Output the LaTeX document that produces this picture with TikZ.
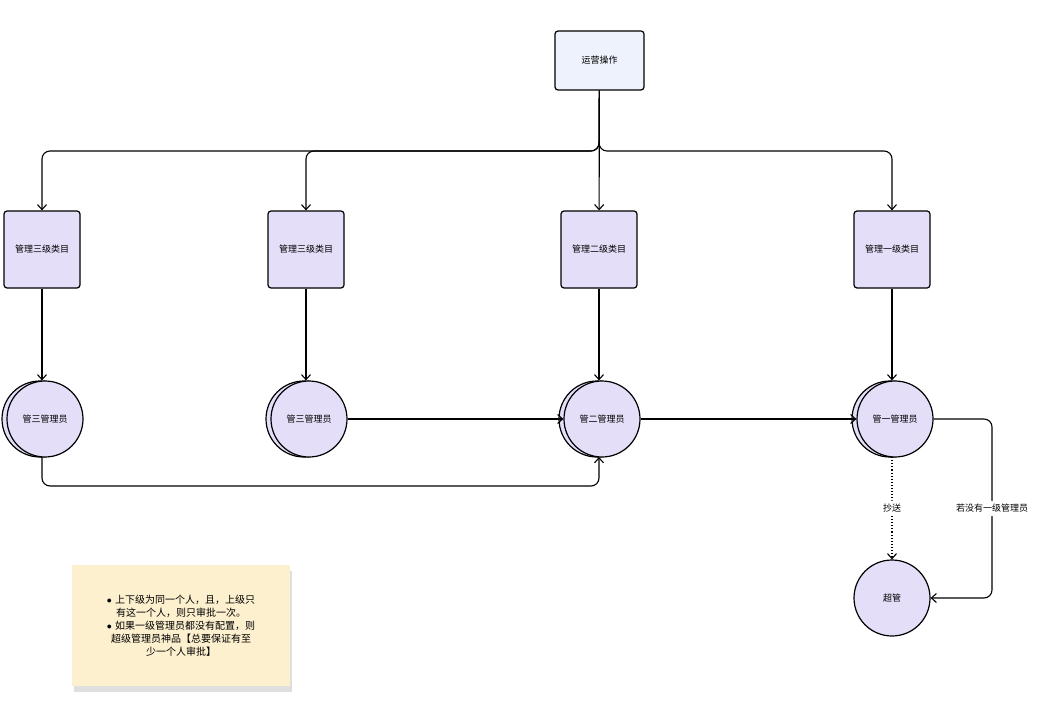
\documentclass[tikz,border=0pt]{standalone}
\usepackage{fontspec}
\setmainfont{Noto Sans CJK SC}
\usetikzlibrary{shapes, arrows.meta, positioning, shadows}
\definecolor{boxblue}{HTML}{EDF2FC}
\definecolor{boxpurple}{HTML}{E5DEF8}
\definecolor{notefill}{HTML}{FDF0CF}
\tikzstyle{block} = [draw, line width=1.2pt, fill=boxpurple, rectangle, rounded corners=3pt, minimum width=76pt, minimum height=77pt, font=\fontsize{9pt}{11pt}\selectfont]
\tikzstyle{role} = [draw, line width=1.2pt, fill=boxpurple, circle, minimum size=76pt, font=\fontsize{9pt}{11pt}\selectfont]
\tikzstyle{link} = [-{Straight Barb[length=5pt,width=9pt]}, line width=1.1pt, rounded corners=8pt]
\begin{document}
\begin{tikzpicture}[x=1pt,y=-1pt]
    \useasboundingbox (0,0) rectangle (1046,703);
    \node[block, fill=boxblue, minimum width=89pt, minimum height=59pt] (op) at (599.5,60.5) {运营操作};
    \node[block] (c3a) at (42,249.5) {管理三级类目};
    \node[block] (c3b) at (306,249.5) {管理三级类目};
    \node[block] (c2) at (599,249.5) {管理二级类目};
    \node[block] (c1) at (892,249.5) {管理一级类目};
    % stacked circles for the admins
    \foreach \n/\x/\t in {m3a/42/管三管理员, m3b/306/管三管理员, m2/599/管二管理员, m1/892/管一管理员} {
        \node[role] at (\x-2,419) {};
        \node[role] (\n) at (\x+3,419) {\t};
    }
    \node[role] (sup) at (892,598) {超管};
    \coordinate (bus) at (599,151);
    \draw[link] (op) -- (bus) -| (c3a);
    \draw[link] (op) -- (bus) -| (c3b);
    \draw[link] (op) -- (c2);
    \draw[link] (op) -- (bus) -| (c1);
    \draw[link] (c3a) -- (c3a|-m3a.north);
    \draw[link] (c3b) -- (c3b|-m3b.north);
    \draw[link] (c2) -- (c2|-m2.north);
    \draw[link] (c1) -- (c1|-m1.north);
    \draw[link] (42,457) -- (42,486) -- (599,486) -- (599,457);
    \draw[link] (m3b) -- (m2);
    \draw[link] (m2) -- (m1);
    \draw[link, dotted] (892,457) -- node[fill=white, font=\fontsize{9pt}{11pt}\selectfont] {抄送} (sup);
    \draw[link] (m1.east) -- (992,419) -- (992,598)
        node[pos=0.5, fill=white, font=\fontsize{9pt}{11pt}\selectfont] {若没有一级管理员} -- (sup.east);
    \node[fill=notefill, drop shadow={shadow xshift=2pt, shadow yshift=-6pt, opacity=0.25}, minimum width=218pt, minimum height=121pt, text width=200pt, align=center, font=\fontsize{10pt}{13pt}\selectfont] (note) at (181,625.5) {%
        $\bullet$\ 上下级为同一个人，且，上级只\\有这一个人，则只审批一次。\\
        $\bullet$\ 如果一级管理员都没有配置，则\\超级管理员神品【总要保证有至\\少一个人审批】};
\end{tikzpicture}
\end{document}
